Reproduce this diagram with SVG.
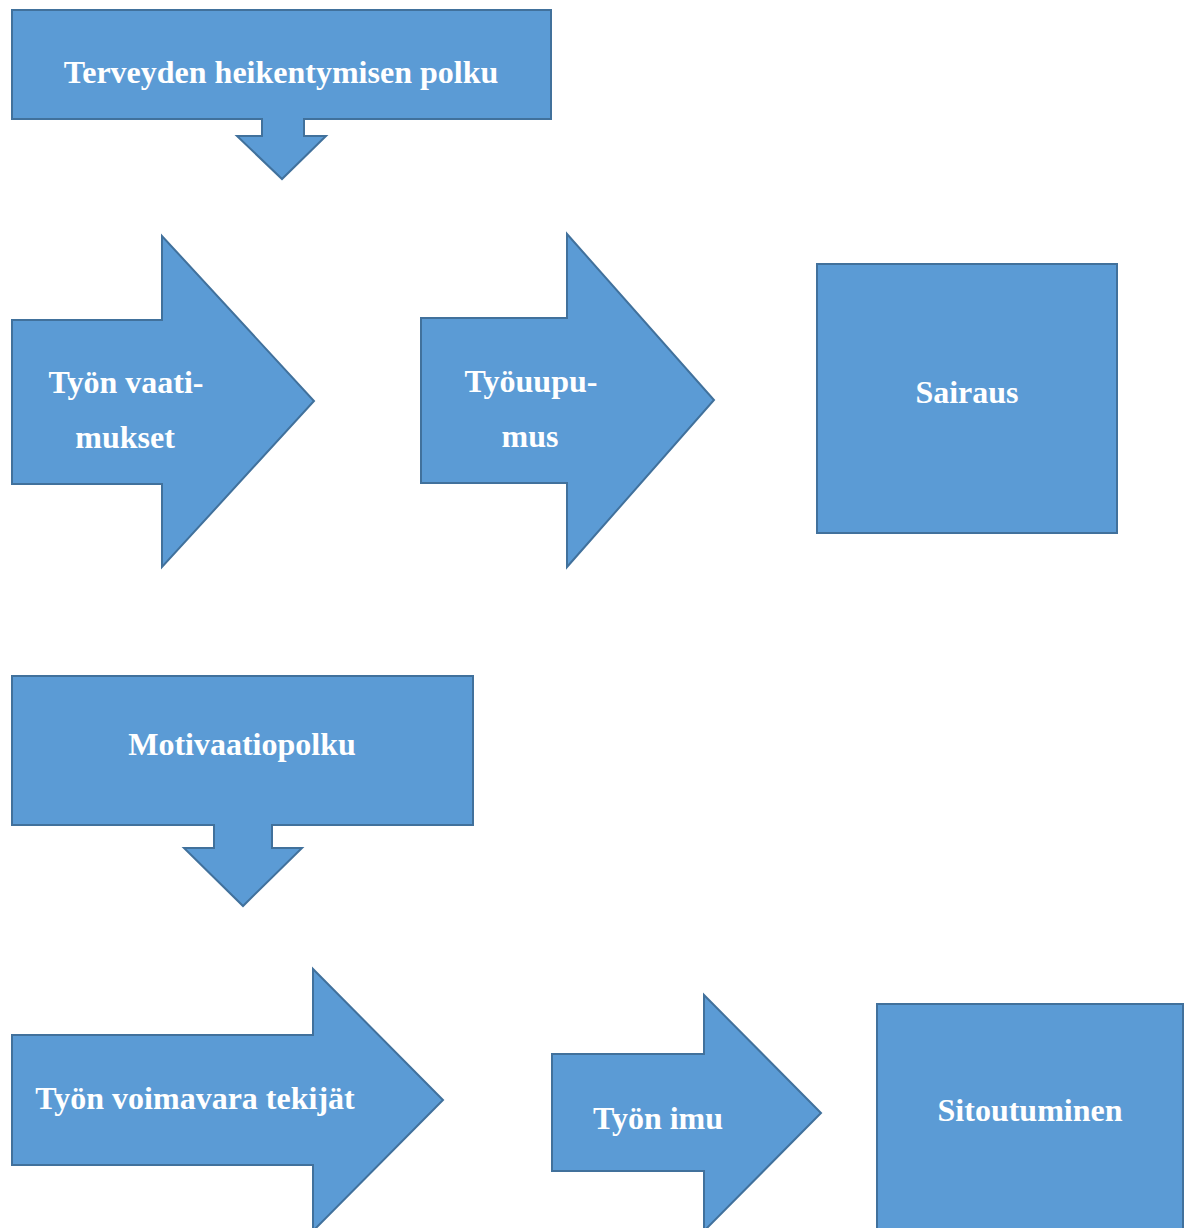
<svg xmlns="http://www.w3.org/2000/svg" width="1186" height="1228" viewBox="0 0 1186 1228">
<style>
.s{fill:#5B9BD5;stroke:#41719C;stroke-width:2}
.t{font-family:"Liberation Serif","Times New Roman",serif;font-weight:bold;font-size:32px;fill:#FFFFFF;text-anchor:middle}
</style>
<rect width="1186" height="1228" fill="#FFFFFF"/>
<g id="terveyden">
<path class="s" d="M12,10 H551 V119 H304 V136 H326 L282,179 L237,136 H262 V119 H12 Z"/>
<text class="t" x="281" y="83">Terveyden heikentymisen polku</text>
</g>
<g id="tyon-vaatimukset">
<path class="s" d="M12,320 H162 V236 L314,401 L162,567 V484 H12 Z"/>
<text class="t" x="126" y="393">Työn vaati-</text>
<text class="t" x="125" y="448">mukset</text>
</g>
<g id="tyouupumus">
<path class="s" d="M421,318 H567 V234 L714,400 L567,567 V483 H421 Z"/>
<text class="t" x="531" y="392">Työuupu-</text>
<text class="t" x="530" y="447">mus</text>
</g>
<g id="sairaus">
<rect class="s" x="817" y="264" width="300" height="269"/>
<text class="t" x="967" y="403">Sairaus</text>
</g>
<g id="motivaatiopolku">
<path class="s" d="M12,676 H473 V825 H272 V848 H302 L243,906 L184,848 H214 V825 H12 Z"/>
<text class="t" x="242" y="755">Motivaatiopolku</text>
</g>
<g id="voimavara">
<path class="s" d="M12,1035 H313 V969 L443,1100 L313,1231 V1165 H12 Z"/>
<text class="t" x="195" y="1109">Työn voimavara tekijät</text>
</g>
<g id="tyon-imu">
<path class="s" d="M552,1054 H704 V995 L821,1113 L704,1231 V1171 H552 Z"/>
<text class="t" x="658" y="1129">Työn imu</text>
</g>
<g id="sitoutuminen">
<rect class="s" x="877" y="1004" width="306" height="240"/>
<text class="t" x="1030" y="1121">Sitoutuminen</text>
</g>
<g id="connectors"/>
</svg>
